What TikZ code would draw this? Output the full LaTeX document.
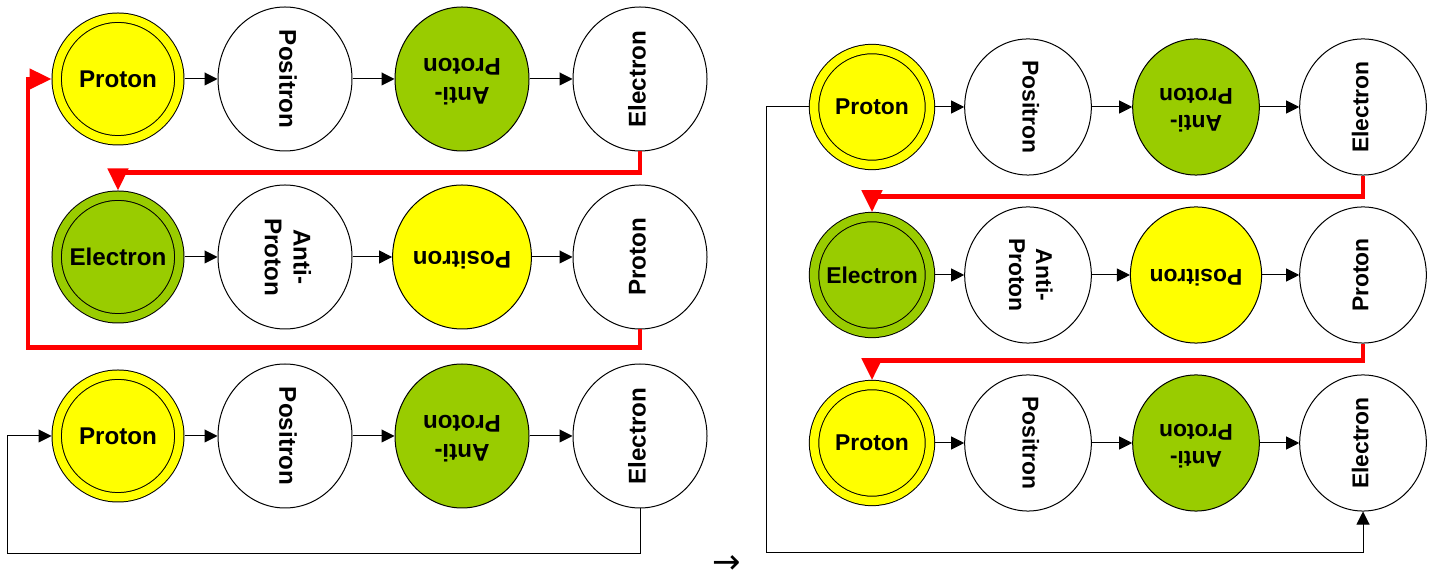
\documentclass[tikz,border=0pt]{standalone}
\usepackage{fontspec}
\setmainfont{Liberation Sans}
\newfontfamily\arrowfont{DejaVu Sans}
\usepackage{graphicx}
\usetikzlibrary{arrows.meta,shapes.geometric}

\definecolor{protonyellow}{RGB}{255,255,0}
\definecolor{leafgreen}{RGB}{153,204,0}
\newcommand{\turned}[2]{\rotatebox{#1}{\begin{tabular}{@{}c@{}}#2\end{tabular}}}

\begin{document}
\begin{tikzpicture}[x=0.5pt, y=-0.5pt, every node/.style={font=\fontsize{12.1}{14.3}\selectfont\bfseries},
	part/.style={ellipse, draw, line width=0.5pt, fill=#1, minimum width=67pt, minimum height=72pt, inner sep=0pt}, part/.default=white,
	core/.style={circle, draw, line width=0.5pt, fill=#1, double=#1, double distance=4.2pt, minimum size=61.3pt, inner sep=0pt, outer sep=2.6pt},
	link/.style={-{Triangle[length=6.5pt,width=6.5pt]}, line width=0.5pt},
	redlink/.style={-{Triangle[length=11pt,width=10pt]}, line width=2.3pt, draw=red}]
	\useasboundingbox (0,0) rectangle (1435,581);
	% left: three rows
	\node[core=protonyellow] (l11) at (118,79) {Proton};
	\node[part] (l12) at (285,79) {\turned{-90}{Positron}};
	\node[part=leafgreen] (l13) at (462,79) {\turned{180}{Anti-\\Proton}};
	\node[part] (l14) at (640,79) {\turned{90}{Electron}};
	\node[core=leafgreen] (l21) at (118,257) {Electron};
	\node[part] (l22) at (285,257) {\turned{-90}{Anti-\\Proton}};
	\node[part=protonyellow] (l23) at (462,257) {\turned{180}{Positron}};
	\node[part] (l24) at (640,257) {\turned{90}{Proton}};
	\node[core=protonyellow] (l31) at (118,436) {Proton};
	\node[part] (l32) at (285,436) {\turned{-90}{Positron}};
	\node[part=leafgreen] (l33) at (462,436) {\turned{180}{Anti-\\Proton}};
	\node[part] (l34) at (640,436) {\turned{90}{Electron}};
	\coordinate (lback) at (28,79);
	\coordinate (lloop) at (7,436);
	\draw[link] (l11) -- (l12); \draw[link] (l12) -- (l13); \draw[link] (l13) -- (l14);
	\draw[link] (l21) -- (l22); \draw[link] (l22) -- (l23); \draw[link] (l23) -- (l24);
	\draw[link] (l31) -- (l32); \draw[link] (l32) -- (l33); \draw[link] (l33) -- (l34);
	\draw[redlink] (l14.south) -- ++(0,21) -| (l21.north);
	\draw[redlink] (l24.south) -- ++(0,18) -| (lback) -- (l11.west);
	\draw[link] (l34.south) -- ++(0,45) -| (lloop) -- (l31.west);
	\node[font=\arrowfont\fontsize{17}{17}\selectfont, inner sep=0pt] (turnover) at (727,565) {→};
	% right: same rows, a little smaller
	\begin{scope}[every node/.append style={scale=0.945}]
	\node[core=protonyellow] (r11) at (872,107) {Proton};
	\node[part] (r12) at (1028,107) {\turned{-90}{Positron}};
	\node[part=leafgreen] (r13) at (1196,107) {\turned{180}{Anti-\\Proton}};
	\node[part] (r14) at (1363,107) {\turned{90}{Electron}};
	\node[core=leafgreen] (r21) at (872,275) {Electron};
	\node[part] (r22) at (1028,275) {\turned{-90}{Anti-\\Proton}};
	\node[part=protonyellow] (r23) at (1196,275) {\turned{180}{Positron}};
	\node[part] (r24) at (1363,275) {\turned{90}{Proton}};
	\node[core=protonyellow] (r31) at (872,443) {Proton};
	\node[part] (r32) at (1028,443) {\turned{-90}{Positron}};
	\node[part=leafgreen] (r33) at (1196,443) {\turned{180}{Anti-\\Proton}};
	\node[part] (r34) at (1363,443) {\turned{90}{Electron}};
	\end{scope}
	\coordinate (rloop) at (766,553);
	\draw[link] (r11) -- (r12); \draw[link] (r12) -- (r13); \draw[link] (r13) -- (r14);
	\draw[link] (r21) -- (r22); \draw[link] (r22) -- (r23); \draw[link] (r23) -- (r24);
	\draw[link] (r31) -- (r32); \draw[link] (r32) -- (r33); \draw[link] (r33) -- (r34);
	\draw[redlink] (r14.south) -- ++(0,21) -| (r21.north);
	\draw[redlink] (r24.south) -- ++(0,17) -| (r31.north);
	\draw[link] (r11.west) -| (rloop) -| (r34.south);
\end{tikzpicture}
\end{document}
